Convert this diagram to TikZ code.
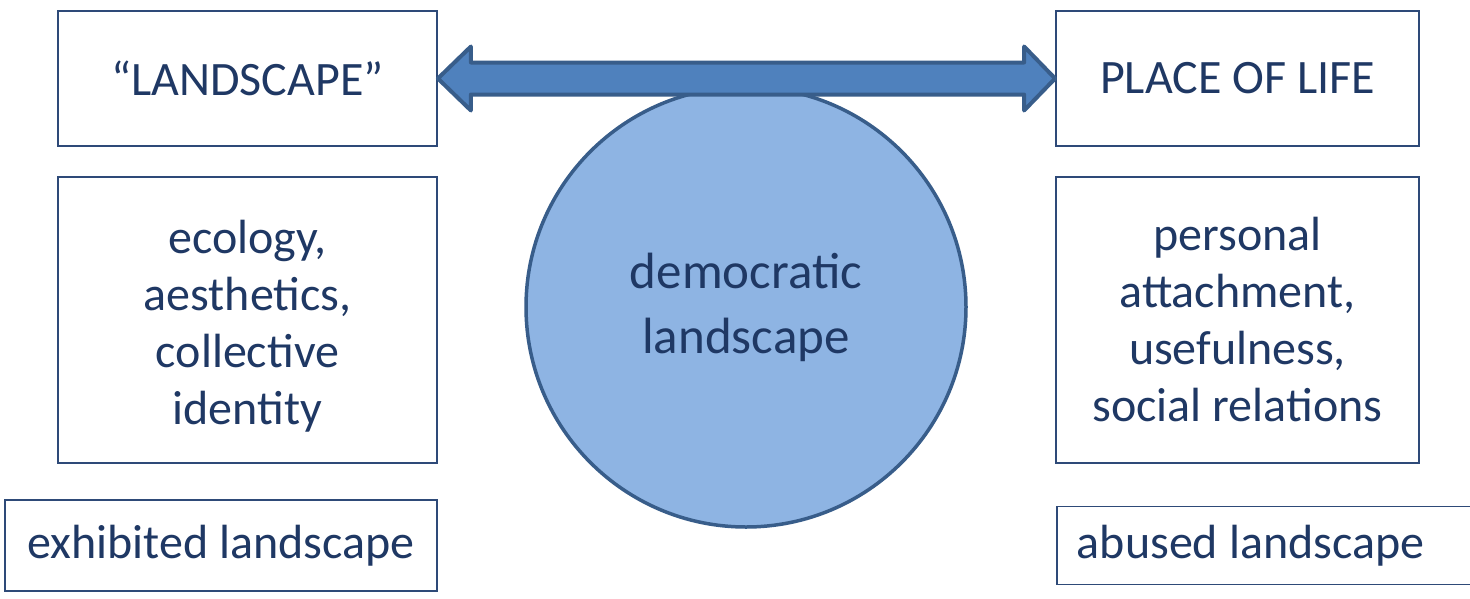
\documentclass[tikz,border=0pt]{standalone}
\usepackage{fontspec}
\setmainfont{Carlito}
\usetikzlibrary{calc}
\definecolor{txt}{HTML}{1F3864}
\definecolor{boxline}{HTML}{2E4A78}
\definecolor{arrfill}{HTML}{4F81BD}
\definecolor{arrline}{HTML}{385D8A}
\definecolor{circfill}{HTML}{8EB4E3}
\tikzset{
  box/.style={draw=boxline, line width=1.8pt, fill=white, inner sep=0pt, text=txt,
    align=center, font=\fontsize{48}{57}\selectfont},
}
\begin{document}
\begin{tikzpicture}[x=1pt,y=-1pt]
\clip (0,0) rectangle (1470,598);
\fill[white] (0,0) rectangle (1470,598);
% circle
\node (c) [circle, draw=arrline, line width=3.5pt, fill=circfill, minimum size=440pt,
  inner sep=0pt, text=txt, align=center, font=\fontsize{51}{65}\selectfont]
  at (746,307) {democratic\\landscape};
% top boxes
\node (l1) [box, minimum width=379pt, minimum height=135pt] at (247.5,78.5) {“LANDSCAPE”};
\node (r1) [box, minimum width=363pt, minimum height=135pt] at (1237.5,78.5) {PLACE OF LIFE};
% middle boxes
\node (l2) [box, minimum width=379pt, minimum height=286pt] at (247.5,320) {\rule{0pt}{46pt}ecology,\\aesthetics,\\collective\\identity};
\node (r2) [box, minimum width=363pt, minimum height=286pt] at (1237.5,320) {personal\\attachment,\\usefulness,\\social relations};
% bottom boxes
\node (l3) [box, minimum width=432pt, minimum height=91pt] at (221,545.5) {exhibited landscape};
\node (r3) [box, minimum height=78pt, anchor=west, align=flush left,
  text width=400pt, inner xsep=20pt, inner ysep=0pt] at (1056,545.5) {abused landscape};
% double arrow between top boxes
\draw[arrline, line width=4pt, fill=arrfill, line join=round]
  (l1.east) -- ++(33,-32) -- ++(0,16) -- ($(r1.west)+(-31,-16)$) -- ++(0,-16) -- (r1.west)
  -- ++(-31,32) -- ++(0,-16) -- ($(l1.east)+(33,16)$) -- ++(0,16) -- cycle;
\end{tikzpicture}
\end{document}
